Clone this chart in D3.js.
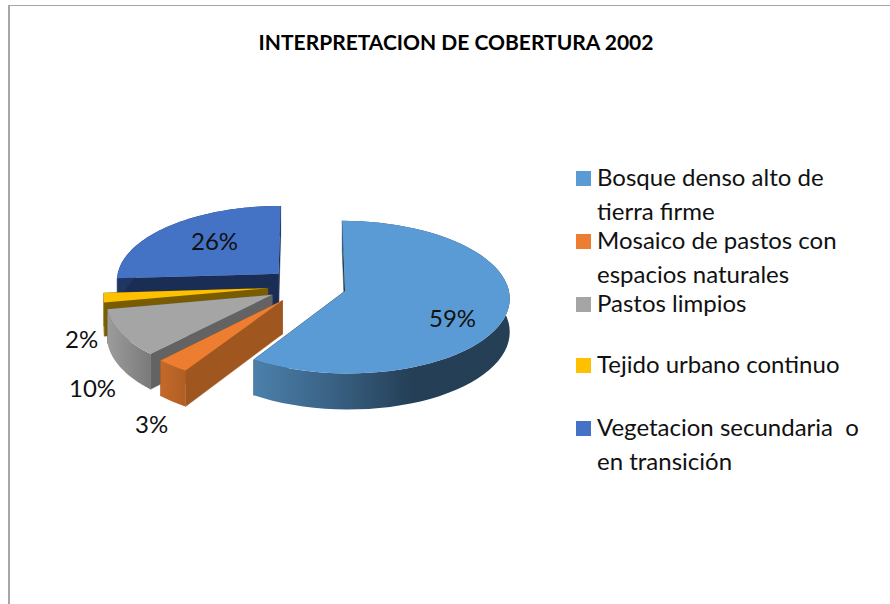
<!DOCTYPE html>
<html><head><meta charset="utf-8">
<script src="https://cdn.jsdelivr.net/npm/d3@7"></script>
<style>html,body{margin:0;padding:0;background:#fff}svg{display:block}text{font-family:Lato,"Open Sans",sans-serif;fill:#111}</style>
</head><body><svg id="c" width="890" height="604"></svg>
<script>
const categories = ["Bosque denso alto de tierra firme","Mosaico de pastos con espacios naturales","Pastos limpios","Tejido urbano continuo","Vegetacion secundaria  o en transición"];
const legendLines = [["Bosque denso alto de","tierra firme"],["Mosaico de pastos con","espacios naturales"],["Pastos limpios"],["Tejido urbano continuo"],["Vegetacion secundaria  o","en transición"]];
const values = [59,3,10,2,26];
const labels = ["59%","3%","10%","2%","26%"];
const topColors = ["#5b9bd5","#ed7d31","#a5a5a5","#ffc000","#4472c4"];
const cutColors = ["#26404f","#a0561f","#636363","#7a5c00","#1a2d55"];
const wallStops = [
  [["0","#4b80ab"],["0.3","#3a6285"],["0.62","#243f56"],["1","#243f56"]],
  [["0","#c4692b"],["1","#b05e24"]],
  [["0","#9c9c9c"],["1","#7a7a7a"]],
  [["0","#a68a1e"],["1","#8a6c08"]],
  [["0","#2c4c86"],["1","#1f3661"]]];
const labelPos = [[429,327],[135,433],[69,397],[65,348],[191,250]];
const legendY = [186,249,312,373,436];

const svg = d3.select("#c");
const cx=307, cy=286, rx=163, ry=75, persp=0.079, depth=33, explode=0.242;
const sx = d3.scaleLinear().domain([-1,1]).range([cx-rx,cx+rx]);
const sy = d3.scaleLinear().domain([-1,1]).range([cy-ry,cy+ry]);
const proj = (u,v,z)=>{const w=1/(1-persp*v);
  return [sx(u*w), sy(v*w)+z*depth*w];};
const arcs = d3.pie().value(d=>d).sort(null)(values);
const line = d3.line().curve(d3.curveLinear);
const defs = svg.append("defs");

// chart frame
svg.append("rect").attr("x",8).attr("y",5).attr("width",2).attr("height",599).attr("fill","#a6a6a6");
svg.append("rect").attr("x",8).attr("y",5).attr("width",882).attr("height",1).attr("fill","#a6a6a6");

svg.append("text").attr("x",456).attr("y",50).attr("text-anchor","middle")
  .attr("font-size",21).attr("font-weight",700).style("fill","#000").text("INTERPRETACION DE COBERTURA 2002");

// back-to-front: vegetation, urban, pastures, mosaic, forest
[4,3,2,1,0].forEach(i=>{
  const a=arcs[i], mid=(a.startAngle+a.endAngle)/2;
  const ou=explode*Math.sin(mid), ov=-explode*Math.cos(mid);
  const rim=d3.range(0,61).map(k=>a.startAngle+(a.endAngle-a.startAngle)*k/60);
  const pt=(t,z)=>proj(ou+Math.sin(t),ov-Math.cos(t),z);
  const apex=z=>proj(ou,ov,z);
  const g=svg.append("g");
  [a.startAngle,a.endAngle].forEach(t=>{
    g.append("path").attr("fill",cutColors[i]).attr("stroke",cutColors[i]).attr("stroke-width",.5)
      .attr("d",line([apex(0),pt(t,0),pt(t,1),apex(1)])+"Z");
  });
  const topRim=rim.map(t=>pt(t,0)), botRim=rim.map(t=>pt(t,1)).reverse();
  const xs=topRim.filter((p,k)=>Math.cos(rim[k])<0.05).map(p=>p[0]);
  const gid="w"+i;
  const gr=defs.append("linearGradient").attr("id",gid).attr("gradientUnits","userSpaceOnUse")
    .attr("x1",d3.min(xs)).attr("x2",d3.max(xs)).attr("y1",0).attr("y2",0);
  const st=i===0?wallStops[i].slice().reverse().map(s=>s):wallStops[i];
  wallStops[i].forEach(s=>gr.append("stop").attr("offset",s[0]).attr("stop-color",s[1]));
  g.append("path").attr("fill",`url(#${gid})`).attr("d",line(topRim.concat(botRim))+"Z");
  g.append("path").attr("fill",topColors[i]).attr("d",line([apex(0)].concat(topRim))+"Z");
});

// data labels
labels.forEach((t,i)=>svg.append("text").attr("x",labelPos[i][0]).attr("y",labelPos[i][1])
  .attr("font-size",24).text(t));

// legend
categories.forEach((c,i)=>{
  svg.append("rect").attr("x",576).attr("y",legendY[i]-15).attr("width",15).attr("height",15).attr("fill",topColors[i]);
  legendLines[i].forEach((l,j)=>svg.append("text").attr("x",597).attr("y",legendY[i]+j*33.5)
    .attr("font-size",24).attr("xml:space","preserve").style("white-space","pre").text(l));
});
</script></body></html>
